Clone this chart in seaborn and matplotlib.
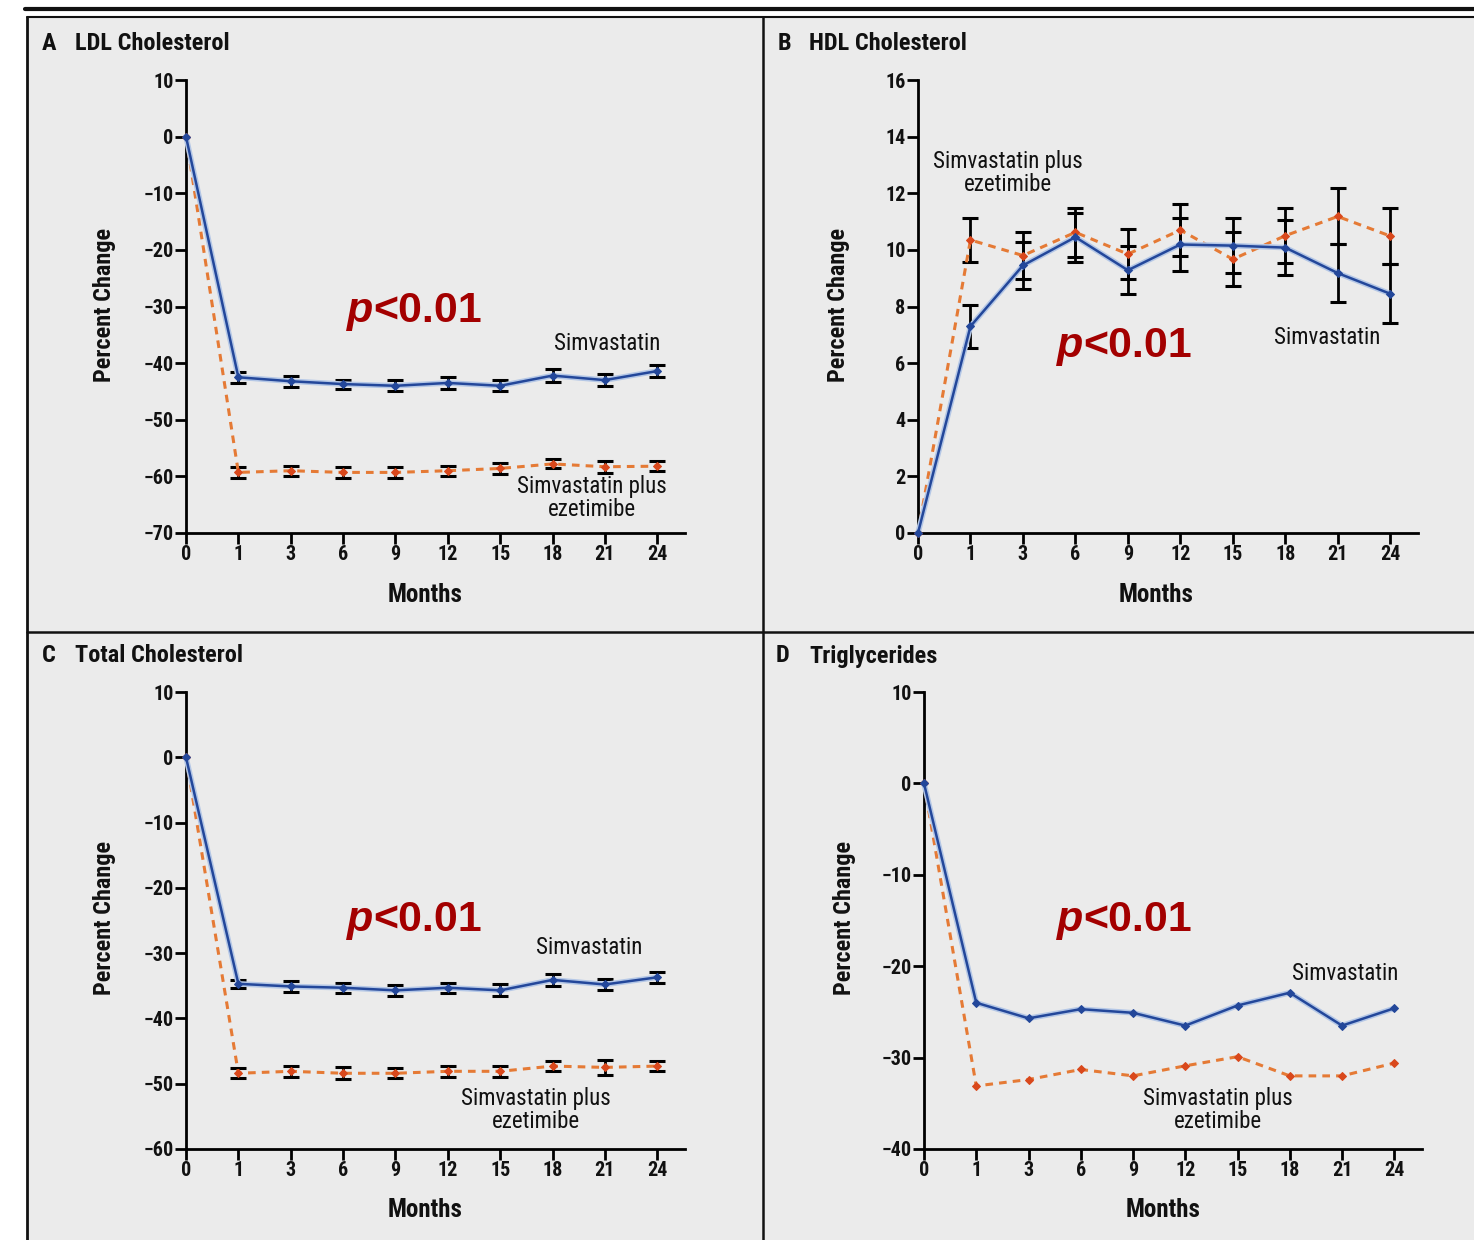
import matplotlib
matplotlib.use("Agg")
import matplotlib.pyplot as plt
from matplotlib import font_manager
from matplotlib.patches import Rectangle
from matplotlib.lines import Line2D
import seaborn as sns
import pandas as pd
import numpy as np

# ---- data ----
months = ["0", "1", "3", "6", "9", "12", "15", "18", "21", "24"]

ldl_simva = [0, -42.5, -43.2, -43.7, -44.0, -43.5, -44.0, -42.2, -43.0, -41.4]
ldl_simva_err = [0, 1.0, 1.0, 0.8, 1.0, 1.0, 1.0, 1.2, 1.0, 1.0]
ldl_combo = [0, -59.3, -59.0, -59.3, -59.3, -59.0, -58.6, -57.8, -58.3, -58.2]
ldl_combo_err = [0, 1.0, 0.9, 1.0, 1.0, 0.9, 0.9, 0.8, 1.1, 0.9]

hdl_simva = [0, 7.3, 9.45, 10.45, 9.28, 10.19, 10.15, 10.08, 9.18, 8.45]
hdl_simva_err = [0, 0.77, 0.83, 0.87, 0.85, 0.92, 0.96, 0.97, 1.03, 1.05]
hdl_combo = [0, 10.35, 9.8, 10.62, 9.85, 10.7, 9.67, 10.5, 11.18, 10.49]
hdl_combo_err = [0, 0.77, 0.82, 0.87, 0.87, 0.92, 0.95, 0.97, 0.99, 1.0]

tc_simva = [0, -34.7, -35.1, -35.3, -35.7, -35.3, -35.7, -34.1, -34.8, -33.7]
tc_simva_err = [0, 0.6, 0.8, 0.8, 0.8, 0.8, 0.9, 0.9, 0.8, 0.8]
tc_combo = [0, -48.4, -48.1, -48.4, -48.4, -48.1, -48.1, -47.3, -47.5, -47.3]
tc_combo_err = [0, 0.8, 0.8, 0.9, 0.8, 0.8, 0.8, 0.8, 1.2, 0.8]

tg_simva = [0, -24.0, -25.7, -24.7, -25.1, -26.5, -24.3, -22.9, -26.5, -24.6]
tg_combo = [0, -33.1, -32.4, -31.3, -32.0, -30.9, -29.9, -32.0, -32.0, -30.6]

W, H = 1474, 1240
BG = "#ebebeb"
BLUE = "#23479a"
HALO = "#b4c7e6"
ORANGE = "#e57a35"
DOT = "#d9481c"
RED = "#a30000"
INK = "#111111"

sns.set_theme(style="ticks")

# a narrow face is closest to the journal font; take the first one installed
installed = {f.name for f in font_manager.fontManager.ttflist}
narrow = next((n for n in ["Liberation Sans Narrow", "Roboto Condensed", "Open Sans Condensed",
                           "Roboto", "Lato"] if n in installed), "DejaVu Sans")
plt.rcParams["font.family"] = [narrow, "DejaVu Sans"]

fig = plt.figure(figsize=(W / 100, H / 100), dpi=100, facecolor="white")


def fx(x):
    return x / W


def fy(y):
    return 1 - y / H


# grey background and panel frame
fig.patches.append(Rectangle((fx(27), 0), 1 - fx(27), fy(17), transform=fig.transFigure,
                             facecolor=BG, edgecolor="none", zorder=-5))
frame = [((25, 1474), (9, 9), 3.0), ((27, 1474), (17, 17), 1.5),
         ((27, 27), (17, 1240), 2.0), ((763, 763), (17, 1240), 1.8),
         ((27, 1474), (632, 632), 1.8)]
for xs, ys, lw in frame:
    fig.lines.append(Line2D([fx(xs[0]), fx(xs[1])], [fy(ys[0]), fy(ys[1])],
                            transform=fig.transFigure, color=INK, lw=lw, zorder=-4))

panels = [
    dict(letter="A", title="LDL Cholesterol", box=(186, 685, 80, 533), ylim=(-70, 10),
         yticks=np.arange(-70, 11, 10), simva=ldl_simva, combo=ldl_combo,
         serr=ldl_simva_err, cerr=ldl_combo_err, tx=(42, 75, 43), ylab=(105, 305),
         xlab=(425, 595), p=(373, 322), slab=(607, 343), clab=(592, 498)),
    dict(letter="B", title="HDL Cholesterol", box=(918, 1418, 80, 533), ylim=(0, 16),
         yticks=np.arange(0, 17, 2), simva=hdl_simva, combo=hdl_combo,
         serr=hdl_simva_err, cerr=hdl_combo_err, tx=(778, 809, 43), ylab=(838, 305),
         xlab=(1156, 595), p=(1083, 357), slab=(1327, 338), clab=(1008, 173)),
    dict(letter="C", title="Total Cholesterol", box=(186, 685, 692, 1149), ylim=(-60, 10),
         yticks=np.arange(-60, 11, 10), simva=tc_simva, combo=tc_combo,
         serr=tc_simva_err, cerr=tc_combo_err, tx=(42, 75, 656), ylab=(105, 918),
         xlab=(425, 1210), p=(373, 931), slab=(589, 948), clab=(536, 1110)),
    dict(letter="D", title="Triglycerides", box=(924, 1422, 692, 1149), ylim=(-40, 10),
         yticks=np.arange(-40, 11, 10), simva=tg_simva, combo=tg_combo,
         serr=None, cerr=None, tx=(776, 809, 656), ylab=(845, 918),
         xlab=(1163, 1210), p=(1083, 931), slab=(1345, 973), clab=(1218, 1110)),
]

pos = np.arange(len(months))

for p in panels:
    l, r, t, b = p["box"]
    ax = fig.add_axes([fx(l), fy(b), (r - l) / W, (b - t) / H])
    ax.set_facecolor("none")

    df = pd.DataFrame({"pos": np.concatenate([pos, pos]),
                       "value": p["combo"] + p["simva"],
                       "group": ["combo"] * len(pos) + ["simva"] * len(pos)})
    combo_df = df[df.group == "combo"]
    simva_df = df[df.group == "simva"]

    if p["serr"] is not None:
        ax.errorbar(pos[1:], p["combo"][1:], yerr=p["cerr"][1:], fmt="none",
                    ecolor="black", elinewidth=2, capsize=6, capthick=2.2, zorder=2)
        ax.errorbar(pos[1:], p["simva"][1:], yerr=p["serr"][1:], fmt="none",
                    ecolor="black", elinewidth=2, capsize=6, capthick=2.2, zorder=2)

    sns.lineplot(data=combo_df, x="pos", y="value", ax=ax, color=ORANGE,
                 lw=2.2, linestyle=(0, (2.5, 2)), marker="D", markersize=4,
                 markeredgecolor=DOT, markerfacecolor=DOT, zorder=3, clip_on=False)
    # faint light-blue underlay seen around the simvastatin line
    sns.lineplot(data=simva_df, x="pos", y="value", ax=ax, color=HALO, lw=4,
                 zorder=4, clip_on=False)
    sns.lineplot(data=simva_df, x="pos", y="value", ax=ax, color=BLUE,
                 lw=1.8, marker="D", markersize=4, markeredgecolor=BLUE, zorder=5,
                 clip_on=False)

    ax.set_xlim(0, 9.53)
    ax.set_ylim(*p["ylim"])
    ax.set_xticks(pos)
    ax.set_xticklabels(months)
    ax.set_yticks(p["yticks"])
    ax.set_xlabel("")
    ax.set_ylabel("")
    for s in ["top", "right"]:
        ax.spines[s].set_visible(False)
    for s in ["left", "bottom"]:
        ax.spines[s].set_color("black")
        ax.spines[s].set_linewidth(2)
    ax.tick_params(axis="both", length=8, width=2, color="black", labelsize=14.5,
                   labelcolor=INK, pad=1)
    for lab in ax.get_xticklabels() + ax.get_yticklabels():
        lab.set_fontweight("bold")

    lx, tx, ty = p["tx"]
    fig.text(fx(lx), fy(ty), p["letter"], fontsize=17.5, fontweight="bold", va="center",
             ha="left", color=INK)
    fig.text(fx(tx), fy(ty), p["title"], fontsize=17.5, fontweight="bold", va="center",
             ha="left", color=INK)
    fig.text(fx(p["ylab"][0]), fy(p["ylab"][1]), "Percent Change", rotation=90,
             fontsize=17.5, fontweight="bold", ha="center", va="center", color=INK)
    fig.text(fx(p["xlab"][0]), fy(p["xlab"][1]), "Months", fontsize=18,
             fontweight="bold", ha="center", va="center", color=INK)
    px_, py_ = p["p"]
    fig.text(fx(px_), fy(py_), "p", fontsize=31, fontweight="bold", style="italic",
             ha="right", va="baseline", color=RED, family=["Liberation Sans", "DejaVu Sans"])
    fig.text(fx(px_), fy(py_), "<0.01", fontsize=31, fontweight="bold",
             ha="left", va="baseline", color=RED, family=["Liberation Sans", "DejaVu Sans"])
    fig.text(fx(p["slab"][0]), fy(p["slab"][1]), "Simvastatin", fontsize=16.5,
             ha="center", va="center", color=INK)
    fig.text(fx(p["clab"][0]), fy(p["clab"][1]), "Simvastatin plus\nezetimibe",
             fontsize=16.5, ha="center", va="center", color=INK, linespacing=1.05)

fig.savefig("out.png", dpi=100, facecolor="white")
